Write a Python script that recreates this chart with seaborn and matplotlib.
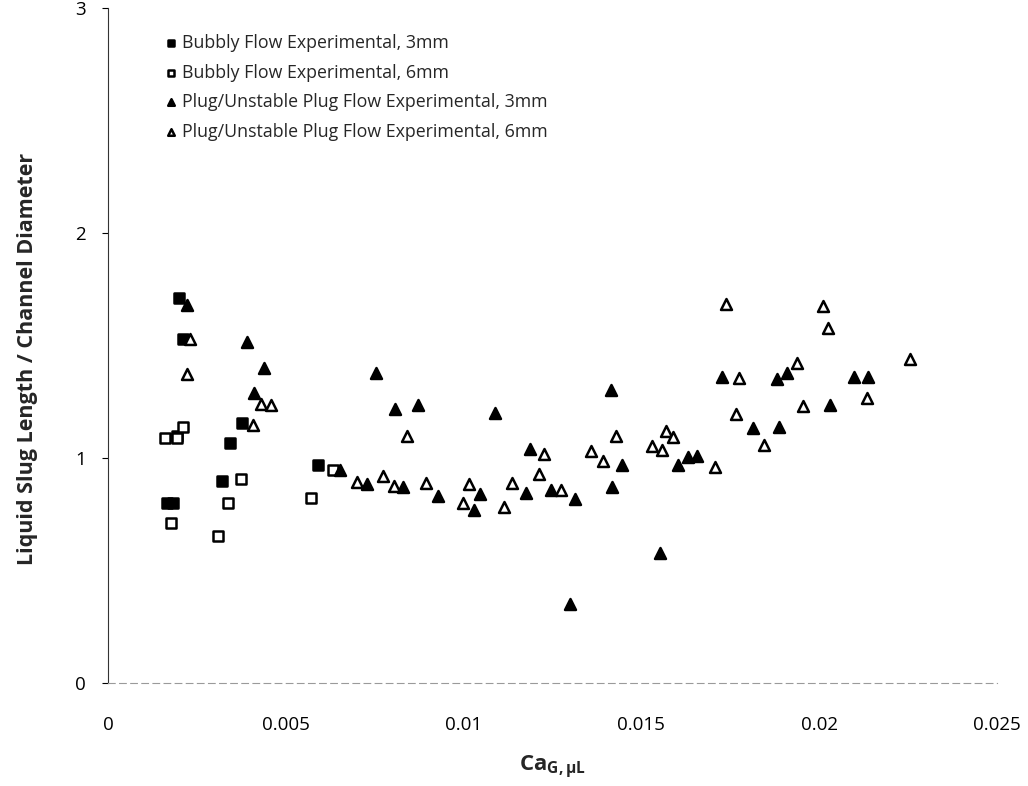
import matplotlib
matplotlib.use("Agg")
import matplotlib.pyplot as plt
import seaborn as sns
import pandas as pd
from matplotlib.ticker import FixedLocator

# ---------------- data ----------------
bub3_x = [0.00165, 0.00182, 0.00200, 0.00210, 0.00193, 0.00344, 0.00320, 0.00377, 0.00590]
bub3_y = [0.80, 0.80, 1.71, 1.53, 1.10, 1.065, 0.90, 1.157, 0.969]

bub6_x = [0.00160, 0.00193, 0.00210, 0.00176, 0.00308, 0.00337, 0.00375, 0.00572, 0.00632]
bub6_y = [1.088, 1.088, 1.14, 0.712, 0.655, 0.80, 0.907, 0.821, 0.947]

plug3_x = [0.00223, 0.00390, 0.00440, 0.00410, 0.00652, 0.00727, 0.00753, 0.00808, 0.00830,
           0.00872, 0.00927, 0.01030, 0.01047, 0.01088, 0.01175, 0.01187, 0.01247, 0.01300,
           0.01313, 0.01414, 0.01418, 0.01446, 0.01552, 0.01603, 0.01632, 0.01657, 0.01728,
           0.01813, 0.01881, 0.01887, 0.01909, 0.02030, 0.02098, 0.02137]
plug3_y = [1.68, 1.516, 1.40, 1.29, 0.947, 0.884, 1.376, 1.218, 0.872,
           1.236, 0.831, 0.769, 0.84, 1.20, 0.843, 1.04, 0.858, 0.35,
           0.816, 1.302, 0.872, 0.967, 0.576, 0.967, 1.003, 1.009, 1.359,
           1.132, 1.35, 1.136, 1.379, 1.236, 1.359, 1.359]

plug6_x = [0.00232, 0.00221, 0.00429, 0.00457, 0.00407, 0.00699, 0.00773, 0.00803, 0.00842,
           0.00894, 0.00999, 0.01016, 0.01114, 0.01137, 0.01213, 0.01225, 0.01275, 0.01357,
           0.01392, 0.01428, 0.01530, 0.01559, 0.01569, 0.01590, 0.01708, 0.01738, 0.01765,
           0.01775, 0.01845, 0.01938, 0.01954, 0.02010, 0.02026, 0.02135, 0.02254]
plug6_y = [1.53, 1.372, 1.239, 1.234, 1.147, 0.895, 0.92, 0.877, 1.098,
           0.890, 0.80, 0.883, 0.784, 0.888, 0.927, 1.02, 0.858, 1.031,
           0.988, 1.098, 1.053, 1.036, 1.121, 1.095, 0.959, 1.683, 1.194,
           1.354, 1.06, 1.421, 1.231, 1.677, 1.576, 1.265, 1.439]

labels = ["Bubbly Flow Experimental, 3mm",
          "Bubbly Flow Experimental, 6mm",
          "Plug/Unstable Plug Flow Experimental, 3mm",
          "Plug/Unstable Plug Flow Experimental, 6mm"]

x_ticks = [0, 0.005, 0.01, 0.015, 0.02, 0.025]
x_tick_labels = ["0", "0.005", "0.01", "0.015", "0.02", "0.025"]
y_ticks = [0, 1, 2, 3]

# ---------------- style ----------------
sns.set_theme(style="white")
plt.rcParams["font.family"] = ["Open Sans", "DejaVu Sans"]
plt.rcParams["mathtext.fontset"] = "custom"
plt.rcParams["mathtext.rm"] = "Open Sans"
plt.rcParams["mathtext.bf"] = "Open Sans:bold"

fig = plt.figure(figsize=(10.28, 7.86), dpi=100)
ax = fig.add_axes([108 / 1028, 1 - 683 / 786, (997 - 108) / 1028, (683 - 8) / 786])

series = [
    (bub3_x, bub3_y, "s", "black", labels[0], 50),
    (bub6_x, bub6_y, "s", "white", labels[1], 50),
    (plug3_x, plug3_y, "^", "black", labels[2], 62),
    (plug6_x, plug6_y, "^", "white", labels[3], 62),
]
for xs, ys, m, fc, lab, s in series:
    df = pd.DataFrame({"x": xs, "y": ys})
    sns.scatterplot(data=df, x="x", y="y", marker=m, color=fc, edgecolor="black",
                    linewidth=1.8, s=s, label=lab, ax=ax, zorder=3)

ax.set_xlim(0, 0.025)
ax.set_ylim(0, 3)
ax.xaxis.set_major_locator(FixedLocator(x_ticks))
ax.set_xticklabels(x_tick_labels)
ax.set_yticks(y_ticks)
ax.set_yticklabels([str(v) for v in y_ticks])

for sp in ["top", "right"]:
    ax.spines[sp].set_visible(False)
ax.spines["left"].set_color("#333333")
ax.spines["left"].set_linewidth(0.8)
ax.spines["bottom"].set_color("#9a9a9a")
ax.spines["bottom"].set_linewidth(0.8)
ax.spines["bottom"].set_linestyle((0, (6, 4)))

ax.tick_params(axis="x", length=0, pad=24, labelsize=13.5, colors="black")
ax.tick_params(axis="y", direction="out", length=4, width=0.8, pad=12, labelsize=13.5,
               colors="black", left=True)

ax.set_ylabel("Liquid Slug Length / Channel Diameter", fontsize=15.5, fontweight="bold")
ax.yaxis.set_label_coords(-0.079, 0.48)
ax.set_xlabel(r"$\mathbf{Ca}_{\mathbf{G,μL}}$", fontsize=16, labelpad=14)

leg = ax.legend(loc="upper left", bbox_to_anchor=(0.053, 0.972), frameon=False,
                fontsize=12.8, markerscale=0.6, handletextpad=0.1, labelspacing=0.65,
                borderaxespad=0, handlelength=1.0)

fig.savefig("out.png", dpi=100, facecolor="white")
